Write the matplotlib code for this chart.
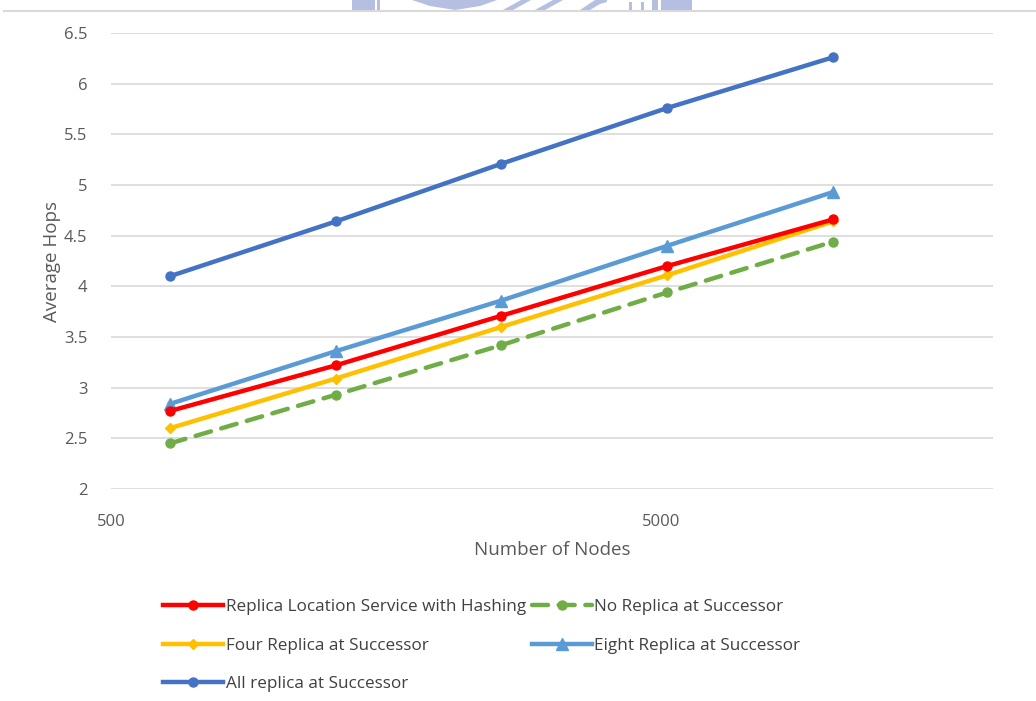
import numpy as np
import matplotlib
matplotlib.use('Agg')
from matplotlib import pyplot as plt
from matplotlib.patches import Rectangle, Polygon
from matplotlib.lines import Line2D
import matplotlib.ticker as ticker

plt.rcParams['font.family'] = ['Open Sans', 'DejaVu Sans']

nodes = [640, 1280, 2560, 5120, 10240]

rls_hashing = [2.77, 3.22, 3.71, 4.20, 4.66]
no_replica = [2.45, 2.93, 3.42, 3.94, 4.44]
four_replica = [2.60, 3.09, 3.60, 4.11, 4.64]
eight_replica = [2.84, 3.36, 3.86, 4.40, 4.93]
all_replica = [4.10, 4.64, 5.21, 5.76, 6.26]

W, H = 1036, 701
fig = plt.figure(figsize=(W / 100, H / 100), dpi=100)
ax = fig.add_axes([111 / W, 1 - 489 / H, (993 - 111) / W, (489 - 33) / H])

def px(x, y):
    return (x / W, 1 - y / H)

# faint watermark pieces and the chart frame along the top
wm = '#b4bfe2'
for x0, x1 in [(352, 375), (377, 380), (652, 658), (661, 692)]:
    fig.add_artist(Rectangle(px(x0, 10), (x1 - x0) / W, 10 / H,
                             transform=fig.transFigure, color=wm, lw=0))
fig.add_artist(Polygon([px(412, 0), px(497, 0), px(480, 6), px(455, 10),
                        px(430, 6)], closed=True, transform=fig.transFigure,
                       color=wm, lw=0))
for x0 in [503, 535]:
    fig.add_artist(Polygon([px(x0, 10), px(x0 + 10, 10), px(x0 + 28, 0),
                            px(x0 + 18, 0)], closed=True,
                           transform=fig.transFigure, color=wm, lw=0))
fig.add_artist(Polygon([px(580, 10), px(590, 10), px(600, 4), px(607, 2),
                        px(607, 0), px(595, 0)], closed=True,
                       transform=fig.transFigure, color=wm, lw=0))
fig.add_artist(Rectangle(px(629, 10), 3 / W, 8 / H, transform=fig.transFigure,
                         color=wm, lw=0))
fig.add_artist(Rectangle(px(641, 10), 3 / W, 8 / H, transform=fig.transFigure,
                         color=wm, lw=0))
fig.add_artist(Line2D([0.004, 1.0], [1 - 11 / H, 1 - 11 / H],
                      transform=fig.transFigure, color='#d9d9d9', lw=1.5))

lw = 3.2
ms = 6.5
l_all, = ax.plot(nodes, all_replica, color='#4472C4', lw=lw, marker='o',
                 ms=ms, label='All replica at Successor')
l_eight, = ax.plot(nodes, eight_replica, color='#5B9BD5', lw=lw, marker='^',
                   ms=ms + 1.5, label='Eight Replica at Successor')
l_four, = ax.plot(nodes, four_replica, color='#FFC000', lw=lw, marker='D',
                  ms=ms - 1, label='Four Replica at Successor')
l_rls, = ax.plot(nodes, rls_hashing, color='#FF0000', lw=lw, marker='o',
                 ms=ms, label='Replica Location Service with Hashing')
l_no, = ax.plot(nodes, no_replica, color='#70AD47', lw=lw, marker='o',
                ms=ms, dashes=(3.6, 2.4), dash_capstyle='round',
                label='No Replica at Successor')
# hashing line sits on top of four replica
l_rls.set_zorder(5)

ax.set_xscale('log')
ax.set_xlim(500, 20000)
ax.set_ylim(2, 6.5)
ax.xaxis.set_major_locator(ticker.FixedLocator([500, 5000]))
ax.xaxis.set_minor_locator(ticker.NullLocator())
ax.xaxis.set_major_formatter(ticker.FormatStrFormatter('%d'))
ax.yaxis.set_major_locator(ticker.MultipleLocator(0.5))
ax.yaxis.set_major_formatter(ticker.FuncFormatter(lambda v, p: f'{v:g}'))

ax.grid(axis='y', color='#d9d9d9', lw=1.2)
ax.set_axisbelow(True)
for s in ax.spines.values():
    s.set_visible(False)
ax.tick_params(length=0, colors='#595959', labelsize=12)
ax.tick_params(axis='x', pad=18)
ax.tick_params(axis='y', pad=17)

ax.set_xlabel('Number of Nodes', color='#595959', fontsize=13.5, labelpad=8)
ax.set_ylabel('Average Hops', color='#595959', fontsize=13.5, labelpad=2)

handles = [l_rls, l_four, l_all, l_no, l_eight]
leg = fig.legend(handles, [h.get_label() for h in handles], ncol=2,
                 loc='upper left', bbox_to_anchor=(148 / W, 1 - 584 / H),
                 frameon=False, fontsize=12.3, handlelength=3.5,
                 handletextpad=0.15, columnspacing=0.35, labelspacing=1.3,
                 labelcolor='#404040')

fig.savefig('out.png', dpi=100)
